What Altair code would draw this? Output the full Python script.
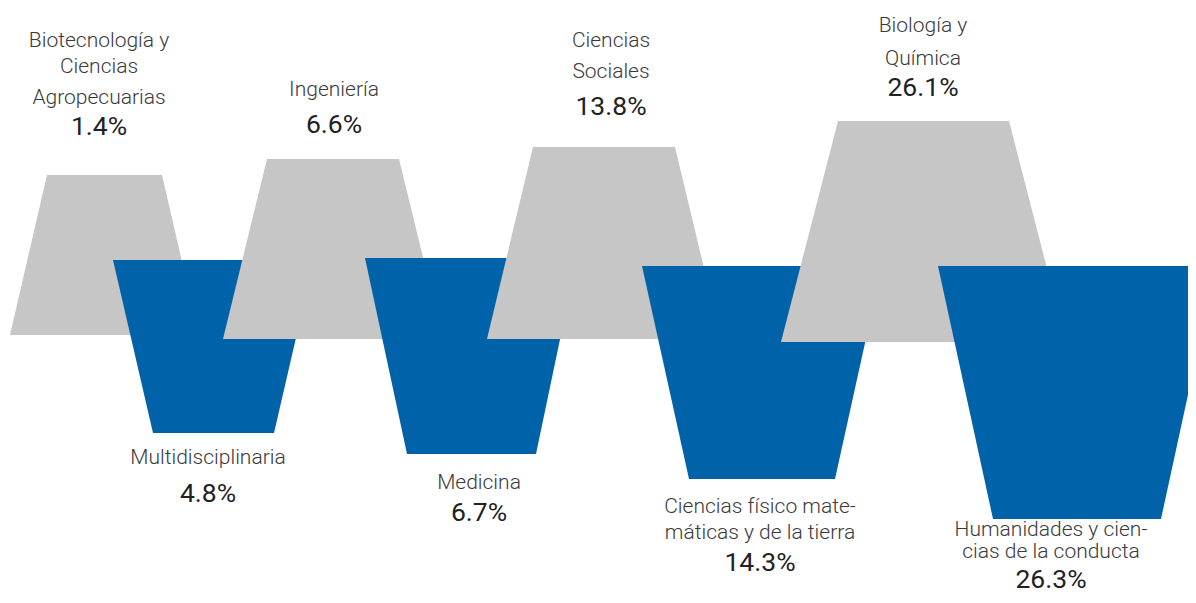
import altair as alt
import pandas as pd

# ---- data ----
categories = ["Biotecnología y Ciencias Agropecuarias", "Multidisciplinaria", "Ingeniería",
              "Medicina", "Ciencias Sociales", "Ciencias físico matemáticas y de la tierra",
              "Biología y Química", "Humanidades y ciencias de la conducta"]
values = [1.4, 4.8, 6.6, 6.7, 13.8, 14.3, 26.1, 26.3]
kinds = ["gris", "azul", "gris", "azul", "gris", "azul", "gris", "azul"]
label_lines = [
    ["Biotecnología y", "Ciencias", "Agropecuarias"],
    ["Multidisciplinaria"],
    ["Ingeniería"],
    ["Medicina"],
    ["Ciencias", "Sociales"],
    ["Ciencias físico mate-", "máticas y de la tierra"],
    ["Biología y", "Química"],
    ["Humanidades y cien-", "cias de la conducta"],
]

# ---- layout of the infographic shapes (page pixels) ----
top_y = [175, 260, 159, 258, 147, 266, 121, 266]
bot_y = [335, 433, 339, 454, 339, 479, 342, 519]
top_l = [47, 113, 267, 365, 533, 642, 838, 938]
top_r = [162, 314, 399, 577, 675, 882, 1009, 1216]
bot_l = [10, 153, 223, 407, 487, 689, 781, 993]
bot_r = [199, 274, 443, 536, 721, 835, 1066, 1161]
label_x = [99, 208, 334, 479, 611, 760, 923, 1051]
label_base = [[47, 73, 104, 135], [464, 502], [96, 133], [489, 521],
              [47, 78, 115], [513, 539, 571], [32, 65, 96], [536, 558, 588]]

M = 8  # page margin
W, H = 1180, 587

rows = []
for i in range(len(categories)):
    rows.append(dict(idx=i, kind=kinds[i], y=top_y[i] - M, xl=top_l[i] - M, xr=top_r[i] - M))
    rows.append(dict(idx=i, kind=kinds[i], y=bot_y[i] - M, xl=bot_l[i] - M, xr=bot_r[i] - M))
shapes = pd.DataFrame(rows)

trows = []
for i in range(len(categories)):
    lines = label_lines[i] + [f"{values[i]:.1f}%"]
    for j, t in enumerate(lines):
        trows.append(dict(idx=i, text=t, x=label_x[i] - M, y=label_base[i][j] - M,
                          pct=(j == len(lines) - 1)))
texts = pd.DataFrame(trows)

xs = alt.Scale(domain=[0, W])
ys = alt.Scale(domain=[0, H], reverse=True)
col = alt.Scale(domain=["gris", "azul"], range=["#C6C6C6", "#0062A8"])

layers = []
for i in range(len(categories)):
    layers.append(
        alt.Chart(shapes).transform_filter(alt.datum.idx == i)
        .mark_area(orient="horizontal", clip=True, interpolate="linear")
        .encode(
            y=alt.Y("y:Q", scale=ys, axis=None),
            x=alt.X("xl:Q", scale=xs, axis=None),
            x2="xr:Q",
            color=alt.Color("kind:N", scale=col, legend=None),
        )
    )

names = alt.Chart(texts).transform_filter(alt.datum.pct == False).mark_text(
    font="Roboto", fontWeight=300, fontSize=21, color="#3a3a3a",
    align="center", baseline="alphabetic"
).encode(x=alt.X("x:Q", scale=xs), y=alt.Y("y:Q", scale=ys), text="text:N")

pcts = alt.Chart(texts).transform_filter(alt.datum.pct == True).mark_text(
    font="Roboto", fontWeight=400, fontSize=26.5, color="#222222",
    align="center", baseline="alphabetic"
).encode(x=alt.X("x:Q", scale=xs), y=alt.Y("y:Q", scale=ys), text="text:N")

chart = alt.layer(*layers, names, pcts).properties(
    width=W, height=H, padding=0, autosize=alt.AutoSizeParams(type="none")
).configure_view(stroke=None)

chart.save("out.html", embed_options={"renderer": "svg", "actions": False})
